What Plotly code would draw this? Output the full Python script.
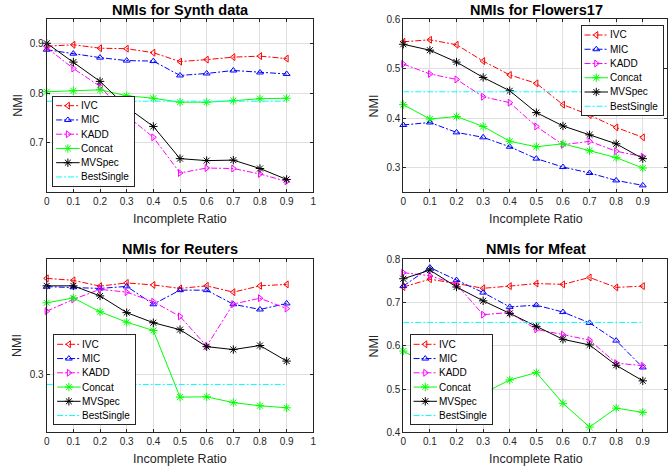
import plotly.graph_objects as go

# ---------------- data ----------------
ratios = [0, 0.1, 0.2, 0.3, 0.4, 0.5, 0.6, 0.7, 0.8, 0.9]
methods = ["IVC", "MIC", "KADD", "Concat", "MVSpec", "BestSingle"]

synth_ivc = [0.895, 0.898, 0.891, 0.890, 0.882, 0.864, 0.868, 0.873, 0.875, 0.870]
synth_mic = [0.888, 0.880, 0.872, 0.866, 0.865, 0.836, 0.840, 0.846, 0.842, 0.839]
synth_kadd = [0.892, 0.850, 0.814, 0.755, 0.711, 0.639, 0.649, 0.648, 0.637, 0.622]
synth_concat = [0.803, 0.805, 0.807, 0.795, 0.790, 0.782, 0.782, 0.785, 0.789, 0.790]
synth_mvspec = [0.901, 0.863, 0.824, 0.772, 0.733, 0.668, 0.664, 0.665, 0.648, 0.626]
synth_best = 0.784

flowers_ivc = [0.554, 0.558, 0.548, 0.515, 0.487, 0.470, 0.427, 0.406, 0.381, 0.361]
flowers_mic = [0.386, 0.391, 0.371, 0.361, 0.342, 0.318, 0.301, 0.289, 0.274, 0.264]
flowers_kadd = [0.509, 0.489, 0.478, 0.443, 0.431, 0.383, 0.346, 0.353, 0.333, 0.322]
flowers_concat = [0.427, 0.398, 0.403, 0.383, 0.353, 0.342, 0.348, 0.334, 0.320, 0.299]
flowers_mvspec = [0.549, 0.537, 0.513, 0.482, 0.455, 0.411, 0.384, 0.366, 0.348, 0.318]
flowers_best = 0.453

reuters_ivc = [0.3334, 0.3327, 0.3307, 0.3318, 0.3311, 0.3299, 0.3308, 0.3286, 0.3308, 0.3313]
reuters_mic = [0.3305, 0.3303, 0.3299, 0.3306, 0.3244, 0.3293, 0.3293, 0.3244, 0.3226, 0.3247]
reuters_kadd = [0.3220, 0.3261, 0.3296, 0.3286, 0.3253, 0.3202, 0.3099, 0.3245, 0.3265, 0.3229]
reuters_concat = [0.3249, 0.3266, 0.3218, 0.3182, 0.3153, 0.2922, 0.2923, 0.2903, 0.2892, 0.2885]
reuters_mvspec = [0.3308, 0.3308, 0.3273, 0.3215, 0.3180, 0.3156, 0.3097, 0.3087, 0.3101, 0.3047]
reuters_best = 0.2966

mfeat_ivc = [0.736, 0.754, 0.744, 0.733, 0.738, 0.744, 0.742, 0.758, 0.735, 0.738]
mfeat_mic = [0.738, 0.781, 0.752, 0.723, 0.690, 0.694, 0.678, 0.653, 0.612, 0.550]
mfeat_kadd = [0.769, 0.762, 0.742, 0.672, 0.677, 0.638, 0.626, 0.613, 0.560, 0.554]
mfeat_concat = [0.588, 0.553, 0.515, 0.490, 0.521, 0.538, 0.467, 0.412, 0.456, 0.446]
mfeat_mvspec = [0.755, 0.775, 0.736, 0.704, 0.675, 0.645, 0.615, 0.602, 0.555, 0.519]
mfeat_best = 0.654

x_ticks = [0, 0.1, 0.2, 0.3, 0.4, 0.5, 0.6, 0.7, 0.8, 0.9, 1]
x_tick_labels = ["0", "0.1", "0.2", "0.3", "0.4", "0.5", "0.6", "0.7", "0.8", "0.9", "1"]

# ---------------- styling ----------------
W, H = 668, 473
FONT = "Liberation Sans, Arial, sans-serif"
AX = "#262626"
GRID = "#dfdfdf"
DASHDOT = "6px,2px,2px,2px"

styles = {
    "IVC": dict(color="#ff0000", dash=DASHDOT, symbol="triangle-left-open", size=6),
    "MIC": dict(color="#0000ff", dash=DASHDOT, symbol="triangle-up-open", size=6),
    "KADD": dict(color="#ff00ff", dash=DASHDOT, symbol="triangle-right-open", size=6),
    "Concat": dict(color="#00ff00", dash="solid", symbol="asterisk-open", size=7),
    "MVSpec": dict(color="#000000", dash="solid", symbol="asterisk-open", size=7),
    "BestSingle": dict(color="#00ffff", dash=DASHDOT, symbol=None, size=0),
}

panels = [
    dict(title="NMIs for Synth data",
         series=[synth_ivc, synth_mic, synth_kadd, synth_concat, synth_mvspec,
                 [synth_best] * len(ratios)],
         px=(46.7, 313.3), py=(19, 192.3), xr=[0, 1], yr=[0.6, 0.95],
         yt=[0.7, 0.8, 0.9], yl=["0.7", "0.8", "0.9"], leg=(53.3, 96.7)),
    dict(title="NMIs for Flowers17",
         series=[flowers_ivc, flowers_mic, flowers_kadd, flowers_concat, flowers_mvspec,
                 [flowers_best] * len(ratios)],
         px=(403.3, 667), py=(19, 192.3), xr=[0, 0.991], yr=[0.25, 0.6],
         yt=[0.3, 0.4, 0.5, 0.6], yl=["0.3", "0.4", "0.5", "0.6"], leg=(581.7, 26)),
    dict(title="NMIs for Reuters",
         series=[reuters_ivc, reuters_mic, reuters_kadd, reuters_concat, reuters_mvspec,
                 [reuters_best] * len(ratios)],
         px=(46.7, 313.3), py=(259.3, 432.3), xr=[0, 1], yr=[0.28, 0.34],
         yt=[0.3], yl=["0.3"], leg=(54.3, 335.3)),
    dict(title="NMIs for Mfeat",
         series=[mfeat_ivc, mfeat_mic, mfeat_kadd, mfeat_concat, mfeat_mvspec,
                 [mfeat_best] * len(ratios)],
         px=(403.3, 667), py=(259.3, 432.3), xr=[0, 0.991], yr=[0.4, 0.8],
         yt=[0.4, 0.5, 0.6, 0.7, 0.8], yl=["0.4", "0.5", "0.6", "0.7", "0.8"],
         leg=(410.7, 335.3)),
]

LEG_W, LEG_H = 81, 89
LEG_OFF, LEG_STEP = 9, 14.25


def px_x(a):
    return a / W


def px_y(a):
    return 1 - a / H


def xdom(a, b):
    return [px_x(a), px_x(b)]


def ydom(top, bottom):
    return [px_y(bottom), px_y(top)]


fig = go.Figure()
layout = {}
annotations = []

for i, p in enumerate(panels):
    n = i + 1
    sx = "" if n == 1 else str(n)
    xref, yref = "x" + sx, "y" + sx
    for m, vals in zip(methods, p["series"]):
        st = styles[m]
        tr = dict(x=ratios, y=vals, xaxis=xref, yaxis=yref, name=m, showlegend=False,
                  cliponaxis=False, hoverinfo="skip",
                  line=dict(color=st["color"], width=1, dash=st["dash"]))
        if st["symbol"]:
            tr["mode"] = "lines+markers"
            tr["marker"] = dict(symbol=st["symbol"], size=st["size"], color=st["color"],
                                line=dict(color=st["color"], width=1))
        else:
            tr["mode"] = "lines"
        fig.add_trace(go.Scatter(**tr))

    common = dict(showline=True, linecolor=AX, linewidth=1, mirror="allticks",
                  ticks="inside", ticklen=3, tickcolor=AX, tickwidth=1,
                  showgrid=True, gridcolor=GRID, gridwidth=1, zeroline=False,
                  tickfont=dict(family=FONT, size=10, color=AX), fixedrange=True)
    layout["xaxis" + sx] = dict(domain=xdom(*p["px"]), range=p["xr"], anchor=yref,
                                tickvals=x_ticks, ticktext=x_tick_labels, **common)
    layout["yaxis" + sx] = dict(domain=ydom(*p["py"]), range=p["yr"], anchor=xref,
                                tickvals=p["yt"], ticktext=p["yl"], **common)

    # panel title: keep the text box fully inside the figure (no margin push)
    ttop = max(p["py"][0] - 20, 0)
    annotations.append(dict(text="<b>" + p["title"] + "</b>", xref=xref, x=0.5,
                            yref="paper", y=px_y(ttop),
                            xanchor="center", yanchor="top", showarrow=False,
                            font=dict(family=FONT, size=14.5, color="#000000")))
    annotations.append(dict(text="Incomplete Ratio", xref=xref, x=0.5,
                            yref="paper", y=px_y(p["py"][1] + 26.5),
                            xanchor="center", yanchor="middle", showarrow=False,
                            font=dict(family=FONT, size=12.5, color=AX)))
    annotations.append(dict(text="NMI", xref="paper", x=px_x(p["px"][0] - 29.5),
                            yref="paper", y=px_y((p["py"][0] + p["py"][1]) / 2),
                            textangle=-90, xanchor="center", yanchor="middle",
                            showarrow=False, font=dict(family=FONT, size=12.5, color=AX)))

    # legend box as an overlay subplot
    ln = n + 4
    lx, ly = "x" + str(ln), "y" + str(ln)
    L, T = p["leg"]
    legax = dict(range=[0, 1], showline=True, linecolor=AX, linewidth=1, mirror=True,
                 showgrid=False, zeroline=False, showticklabels=False, ticks="",
                 fixedrange=True)
    layout["xaxis" + str(ln)] = dict(domain=xdom(L, L + LEG_W), anchor=ly, **legax)
    layout["yaxis" + str(ln)] = dict(domain=ydom(T, T + LEG_H), anchor=lx, **legax)
    for k, m in enumerate(methods):
        st = styles[m]
        yy = 1 - (LEG_OFF + k * LEG_STEP) / LEG_H
        fig.add_trace(go.Scatter(x=[0.035, 0.325], y=[yy, yy], xaxis=lx, yaxis=ly,
                                 mode="lines", showlegend=False, hoverinfo="skip",
                                 line=dict(color=st["color"], width=1, dash=st["dash"])))
        if st["symbol"]:
            fig.add_trace(go.Scatter(x=[0.18], y=[yy], xaxis=lx, yaxis=ly,
                                     mode="markers", showlegend=False, hoverinfo="skip",
                                     marker=dict(symbol=st["symbol"], size=st["size"],
                                                 color=st["color"],
                                                 line=dict(color=st["color"], width=1))))
        annotations.append(dict(text=m, xref=lx, yref=ly, x=0.32, y=yy,
                                xanchor="left", yanchor="middle", showarrow=False,
                                font=dict(family=FONT, size=10, color="#000000")))

fig.update_layout(width=W, height=H, margin=dict(l=0, r=0, t=0, b=0, autoexpand=False),
                  paper_bgcolor="white", plot_bgcolor="white", showlegend=False,
                  annotations=annotations, **layout)

# remove the browser's default 8px page margin so the figure fills the window
fig.write_html("out.html",
               config={"displayModeBar": False, "staticPlot": True},
               post_script="document.body.style.margin='0';"
                           "document.body.style.overflow='hidden';")
